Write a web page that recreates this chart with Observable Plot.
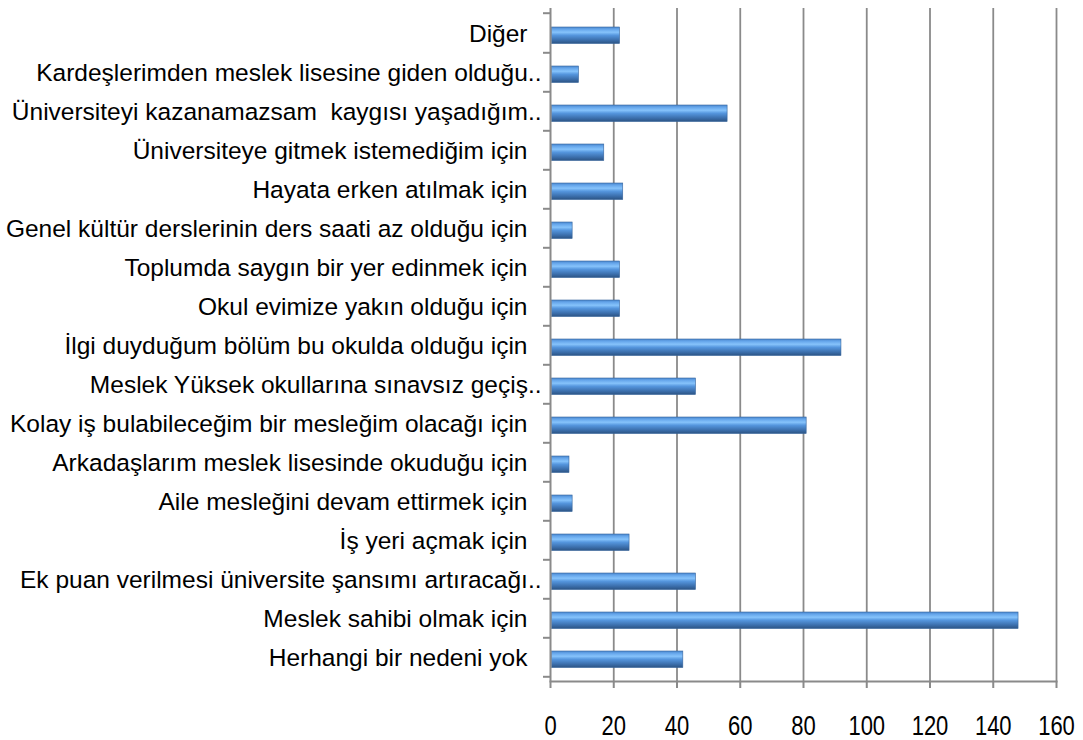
<!DOCTYPE html>
<html>
<head>
<meta charset="utf-8">
<script src="https://cdn.jsdelivr.net/npm/d3@7"></script>
<script src="https://cdn.jsdelivr.net/npm/@observablehq/plot@0.6"></script>
<style>
  html, body { margin: 0; padding: 0; background: #fff; }
  #chart { width: 1083px; height: 740px; }
</style>
</head>
<body>
<div id="chart"></div>
<script>
// Categories, top to bottom as shown
const categories = [
  "Diğer",
  "Kardeşlerimden meslek lisesine giden olduğu..",
  "Üniversiteyi kazanamazsam  kaygısı yaşadığım..",
  "Üniversiteye gitmek istemediğim için",
  "Hayata erken atılmak için",
  "Genel kültür derslerinin ders saati az olduğu için",
  "Toplumda saygın bir yer edinmek için",
  "Okul evimize yakın olduğu için",
  "İlgi duyduğum bölüm bu okulda olduğu için",
  "Meslek Yüksek okullarına sınavsız geçiş..",
  "Kolay iş bulabileceğim bir mesleğim olacağı için",
  "Arkadaşlarım meslek lisesinde okuduğu için",
  "Aile mesleğini devam ettirmek için",
  "İş yeri açmak için",
  "Ek puan verilmesi üniversite şansımı artıracağı..",
  "Meslek sahibi olmak için",
  "Herhangi bir nedeni yok"
];
const values = [22, 9, 56, 17, 23, 7, 22, 22, 92, 46, 81, 6, 7, 25, 46, 148, 42];
const xTicks = [0, 20, 40, 60, 80, 100, 120, 140, 160];

const data = categories.map((c, i) => ({category: c, value: values[i]}));
const truncated = categories.filter(c => c.endsWith(".."));
const full = categories.filter(c => !c.endsWith(".."));

const W = 1083, H = 740;
const mL = 550, mR = 27, mT = 8, mB = 59;
const step = (H - mT - mB) / categories.length;
const FONT = "'Liberation Sans', Arial, sans-serif";

const gradDefs = () => {
  const ns = "http://www.w3.org/2000/svg";
  const g = document.createElementNS(ns, "g");
  g.innerHTML = `
    <defs>
      <linearGradient id="barGrad" x1="0" y1="0" x2="0" y2="1">
        <stop offset="0" stop-color="#4a88d0"/>
        <stop offset="0.15" stop-color="#68a8ec"/>
        <stop offset="0.32" stop-color="#86c3fb"/>
        <stop offset="0.5" stop-color="#5596de"/>
        <stop offset="0.8" stop-color="#3b6eab"/>
        <stop offset="1" stop-color="#2c5484"/>
      </linearGradient>
    </defs>`;
  return g;
};

const chart = Plot.plot({
  width: W,
  height: H,
  marginLeft: mL,
  marginRight: mR,
  marginTop: mT,
  marginBottom: mB,
  style: {fontFamily: FONT, background: "#fff"},
  x: {domain: [0, 160]},
  y: {domain: categories, padding: 0},
  marks: [
    gradDefs,
    Plot.gridX(xTicks.filter(d => d > 0), {stroke: "#8a8a8a", strokeOpacity: 1, strokeWidth: 1.8}),
    Plot.barX(data, {
      x1: 0.5, x2: "value", y: "category",
      fill: "url(#barGrad)",
      stroke: "#36649c", strokeWidth: 0.6,
      insetTop: 14, insetBottom: 8.5
    }),
    // axis lines
    Plot.ruleX([0], {stroke: "#8a8a8a", strokeWidth: 2}),
    Plot.frame({anchor: "bottom", stroke: "#8a8a8a", strokeWidth: 2}),
    // y tick marks at band boundaries
    Plot.axisY(categories, {tickSize: 7, text: null, stroke: "#8a8a8a", strokeWidth: 2, dy: step / 2, label: null}),
    Plot.axisY([categories[0]], {tickSize: 7, text: null, stroke: "#8a8a8a", strokeWidth: 2, dy: -step / 2, label: null}),
    // y labels (full labels, and the truncated ones which reach closer to the axis)
    Plot.axisY(full, {tickSize: 0, tickPadding: 23, fontSize: 24.5, fill: "#000", label: null, dy: 1}),
    Plot.axisY(truncated, {tickSize: 0, tickPadding: 9, fontSize: 24.5, fill: "#000", label: null, dy: 1}),
    // x axis
    Plot.axisX(xTicks, {tickSize: 7, stroke: "#8a8a8a", strokeWidth: 2, tickPadding: 27, fontSize: 22, fill: "#000", label: null})
  ]
});

// vertically stretch the x tick labels like the reference
chart.querySelectorAll('g[aria-label="x-axis tick label"] text').forEach(t => {
  const tr = t.getAttribute("transform");
  if (tr) {
    t.setAttribute("transform", tr + " scale(1,1.27)");
  } else {
    const x = +t.getAttribute("x") || 0, y = +t.getAttribute("y") || 0;
    t.setAttribute("transform", `translate(${x},${y}) scale(1,1.27) translate(${-x},${-y})`);
  }
});

document.getElementById("chart").appendChild(chart);
</script>
</body>
</html>
